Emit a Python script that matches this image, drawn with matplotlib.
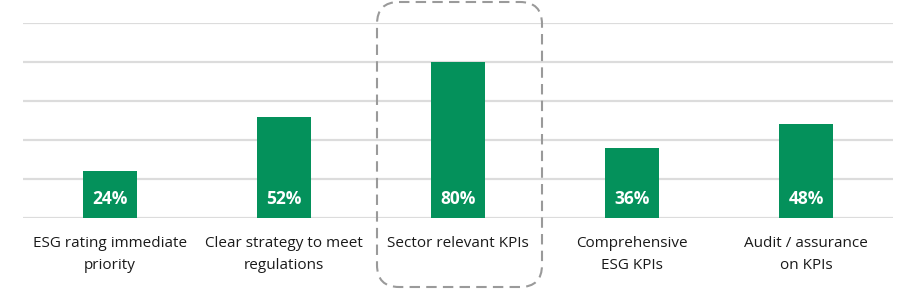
import matplotlib.pyplot as plt
from matplotlib.patches import FancyBboxPatch

categories = ['ESG rating immediate\npriority', 'Clear strategy to meet\nregulations',
              'Sector relevant KPIs', 'Comprehensive\nESG KPIs', 'Audit / assurance\non KPIs']
values = [24, 52, 80, 36, 48]
labels = ['24%', '52%', '80%', '36%', '48%']

plt.rcParams['font.family'] = ['Open Sans', 'DejaVu Sans']

fig = plt.figure(figsize=(9.16, 2.89), dpi=100)
ax = fig.add_axes([23 / 916, 71 / 289, 870 / 916, 195 / 289])

x = range(len(categories))
ax.bar(x, values, width=0.316, color='#04915B', zorder=3)
for i, (v, t) in enumerate(zip(values, labels)):
    ax.text(i, 9.5, t, ha='center', va='center', color='white',
            fontsize=12.5, fontweight='bold', zorder=4)

ax.set_xlim(-0.5, 4.5)
ax.set_ylim(0, 100)
ax.set_yticks([0, 20, 40, 60, 80, 100])
ax.yaxis.grid(True, color='#dcdcdc', linewidth=1.6, zorder=0)
ax.set_yticklabels([])
ax.tick_params(axis='both', length=0)
ax.set_xticks(list(x))
ax.set_xticklabels(categories, fontsize=11, color='#1a1a1a', linespacing=1.65)
ax.tick_params(axis='x', pad=13)
for s in ax.spines.values():
    s.set_visible(False)

# dashed highlight box, drawn in pixel coordinates
ov = fig.add_axes([0, 0, 1, 1], zorder=5)
ov.set_xlim(0, 916)
ov.set_ylim(289, 0)
ov.axis('off')
ov.patch.set_alpha(0)
box = FancyBboxPatch((377, 2), 165, 285, boxstyle='round,pad=0,rounding_size=22',
                     fill=False, edgecolor='#9a9a9a', linewidth=1.5,
                     linestyle=(0, (5, 3)))
ov.add_patch(box)

fig.savefig('out.png', dpi=100)
